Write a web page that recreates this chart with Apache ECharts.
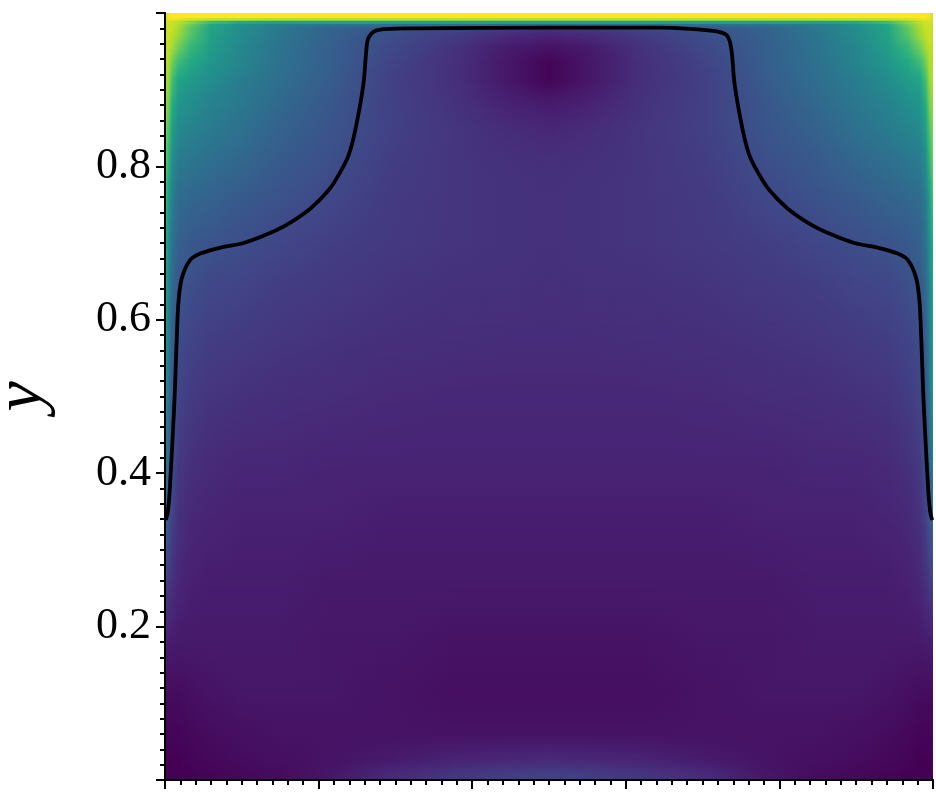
<!DOCTYPE html>
<html>
<head>
<meta charset="utf-8">
<title>Field</title>
<script src="https://cdn.jsdelivr.net/npm/echarts@6/dist/echarts.min.js"></script>
<style>
  html, body { margin: 0; padding: 0; background: #fff; }
  #chart { width: 936px; height: 792px; }
</style>
</head>
<body>
<div id="chart"></div>
<script>
const tickLabelsY = ['0.2', '0.4', '0.6', '0.8']
const viridis = ['#440154', '#482475', '#414487', '#355f8d', '#2a788e', '#21918c', '#22a884', '#44bf70', '#7ad151', '#bddf26', '#fde725']

// x positions of the values in each row
const xNodes = [0, 0.0043, 0.0095, 0.0173, 0.0329, 0.059, 0.098, 0.1501, 0.2151, 0.2932, 0.3843, 0.4497, 0.5,
  0.5503, 0.6157, 0.7068, 0.7849, 0.8499, 0.902, 0.941, 0.9671, 0.9827, 0.9905, 0.9957, 1]

// y limits of the rows, top to bottom
const yEdges = [1, 0.9915, 0.989, 0.9863, 0.9837, 0.9772, 0.9642, 0.9446, 0.9251, 0.8991, 0.8665, 0.8274, 0.7818,
  0.7297, 0.6776, 0.6124, 0.5343, 0.4561, 0.3779, 0.2997, 0.2216, 0.1434, 0.0783, 0.0392, 0.0132, 0]

const fieldRows = [
  [.93, .97, 1, 1, 1, 1, 1, 1, 1, 1, 1, 1, 1, 1, 1, 1, 1, 1, 1, 1, 1, 1, 1, .97, .93],
  [.92, .95, .95, .93, .88, .84, .82, .8, .8, .8, .8, .8, .8, .8, .8, .8, .8, .8, .82, .84, .88, .93, .95, .95, .92],
  [.9, .93, .92, .9, .82, .68, .6, .55, .55, .55, .55, .55, .55, .55, .55, .55, .55, .55, .6, .68, .82, .9, .92, .93, .9],
  [.9, .92, .92, .88, .78, .6, .5, .42, .38, .36, .34, .33, .33, .33, .34, .36, .38, .42, .5, .6, .78, .88, .92, .92, .9],
  [.9, .92, .92, .87, .74, .58, .49, .4, .32, .26, .2, .17, .16, .17, .2, .26, .32, .4, .49, .58, .74, .87, .92, .92, .9],
  [.9, .92, .9, .85, .73, .57, .48, .39, .31, .24, .17, .12, .1, .12, .17, .24, .31, .39, .48, .57, .73, .85, .9, .92, .9],
  [.9, .9, .86, .78, .66, .55, .46, .38, .3, .22, .14, .07, .05, .07, .14, .22, .3, .38, .46, .55, .66, .78, .86, .9, .9],
  [.88, .88, .78, .68, .6, .52, .45, .37, .3, .2, .13, .06, .01, .06, .13, .2, .3, .37, .45, .52, .6, .68, .78, .88, .88],
  [.88, .85, .7, .58, .54, .48, .42, .36, .29, .19, .13, .06, .01, .06, .13, .19, .29, .36, .42, .48, .54, .58, .7, .85, .88],
  [.85, .8, .62, .52, .49, .44, .4, .34, .27, .19, .14, .09, .07, .09, .14, .19, .27, .34, .4, .44, .49, .52, .62, .8, .85],
  [.82, .72, .55, .47, .44, .41, .37, .31, .26, .19, .15, .125, .11, .125, .15, .19, .26, .31, .37, .41, .44, .47, .55, .72, .82],
  [.78, .65, .48, .41, .39, .36, .33, .28, .24, .18, .15, .14, .135, .14, .15, .18, .24, .28, .33, .36, .39, .41, .48, .65, .78],
  [.7, .55, .42, .35, .33, .31, .28, .25, .21, .17, .15, .145, .14, .145, .15, .17, .21, .25, .28, .31, .33, .35, .42, .55, .7],
  [.62, .5, .38, .31, .28, .26, .24, .21, .185, .165, .15, .145, .14, .145, .15, .165, .185, .21, .24, .26, .28, .31, .38, .5, .62],
  [.58, .46, .34, .27, .24, .21, .2, .18, .165, .15, .14, .14, .135, .14, .14, .15, .165, .18, .2, .21, .24, .27, .34, .46, .58],
  [.55, .42, .3, .23, .2, .18, .17, .155, .145, .135, .13, .125, .125, .125, .13, .135, .145, .155, .17, .18, .2, .23, .3, .42, .55],
  [.5, .38, .27, .2, .17, .15, .14, .13, .125, .115, .11, .11, .11, .11, .11, .115, .125, .13, .14, .15, .17, .2, .27, .38, .5],
  [.42, .32, .23, .17, .14, .12, .11, .11, .1, .1, .1, .1, .1, .1, .1, .1, .1, .11, .11, .12, .14, .17, .23, .32, .42],
  [.32, .26, .19, .14, .11, .1, .09, .09, .09, .08, .08, .08, .08, .08, .08, .08, .09, .09, .09, .1, .11, .14, .19, .26, .32],
  [.2, .17, .14, .11, .09, .08, .08, .08, .07, .07, .07, .07, .07, .07, .07, .07, .07, .08, .08, .08, .09, .11, .14, .17, .2],
  [.09, .08, .08, .07, .07, .07, .07, .07, .06, .06, .05, .05, .05, .05, .05, .06, .06, .07, .07, .07, .07, .07, .08, .08, .09],
  [.03, .03, .03, .03, .04, .05, .06, .06, .06, .05, .04, .04, .04, .04, .04, .05, .06, .06, .06, .05, .04, .03, .03, .03, .03],
  [.01, .01, .01, .01, .02, .03, .04, .05, .05, .05, .05, .05, .05, .05, .05, .05, .05, .05, .04, .03, .02, .01, .01, .01, .01],
  [0, 0, 0, 0, .01, .02, .03, .04, .05, .07, .1, .11, .12, .11, .1, .07, .05, .04, .03, .02, .01, 0, 0, 0, 0],
  [0, 0, 0, 0, 0, .01, .02, .03, .06, .12, .16, .18, .19, .18, .16, .12, .06, .03, .02, .01, 0, 0, 0, 0, 0]
]

// contour line
const contourX = [0.001, 0.0034, 0.0056, 0.0069, 0.0082, 0.0104, 0.0125, 0.0141, 0.0157, 0.0177, 0.0221, 0.0329, 0.0459, 0.072,
  0.1023, 0.1328, 0.1588, 0.1891, 0.2129, 0.2282, 0.239, 0.2477, 0.2582, 0.2621, 0.2647, 0.2725, 0.2868, 0.3323, 0.5002,
  0.6447, 0.6877, 0.7185, 0.7315, 0.7371, 0.7418, 0.7523, 0.761, 0.7718, 0.7871, 0.8109, 0.8412, 0.8672, 0.8977, 0.928, 0.9541,
  0.9671, 0.9779, 0.9823, 0.9843, 0.9859, 0.9875, 0.9896, 0.9918, 0.9931, 0.9944, 0.9966, 0.999]
const contourY = [0.339, 0.348, 0.369, 0.391, 0.413, 0.456, 0.499, 0.543, 0.586, 0.625, 0.655, 0.678, 0.6863, 0.6941,
  0.7001, 0.7114, 0.7241, 0.7449, 0.7688, 0.7926, 0.8144, 0.847, 0.906, 0.951, 0.967, 0.976, 0.979, 0.98, 0.981,
  0.981, 0.979, 0.976, 0.971, 0.955, 0.906, 0.847, 0.8144, 0.7926, 0.7688, 0.7449, 0.7241, 0.7114, 0.7001, 0.6941, 0.6863,
  0.678, 0.655, 0.625, 0.586, 0.543, 0.499, 0.456, 0.413, 0.391, 0.369, 0.348, 0.339]

const chart = echarts.init(document.getElementById('chart'), null, { renderer: 'canvas' })

// paints one row band: each row's values sit at the band middle, shade towards the neighbours over thin strips
const renderRow = (params, api) => {
  const i = params.dataIndex
  const row = fieldRows[i]
  const prev = fieldRows[Math.max(i - 1, 0)]
  const next = fieldRows[Math.min(i + 1, fieldRows.length - 1)]
  const left = api.coord([0, 1])[0]
  const width = api.coord([1, 1])[0] - left
  const y0 = Math.round(api.coord([0, api.value(0)])[1])
  const y1 = Math.round(api.coord([0, api.value(1)])[1])
  const h = yEdges[i] - yEdges[i + 1]
  const hPrev = i > 0 ? yEdges[i - 1] - yEdges[i] : h
  const hNext = i < fieldRows.length - 1 ? yEdges[i + 1] - yEdges[i + 2] : h
  const steps = Math.max(1, Math.floor((y1 - y0) / 2))
  const children = []
  for (let s = 0; s < steps; s++) {
    const top = Math.round(y0 + (y1 - y0) * s / steps)
    const bottom = Math.round(y0 + (y1 - y0) * (s + 1) / steps)
    const f = (s + 0.5) / steps
    const other = f < 0.5 ? prev : next
    const w = f < 0.5 ? (0.5 - f) * h / ((h + hPrev) / 2) : (f - 0.5) * h / ((h + hNext) / 2)
    const stops = row.map((t, k) => ({
      offset: xNodes[k],
      color: echarts.color.lerp(t + (other[k] - t) * w, viridis)
    }))
    children.push({
      type: 'rect',
      shape: { x: left, y: top, width, height: bottom - top },
      style: { fill: new echarts.graphic.LinearGradient(0, 0, 1, 0, stops) }
    })
  }
  return { type: 'group', children }
}

const frameAxis = { min: 0, max: 1, z: 5, axisLine: { show: true, lineStyle: { color: '#000', width: 2 } }, axisTick: { show: false }, axisLabel: { show: false }, splitLine: { show: false } }

chart.setOption({
  animation: false,
  backgroundColor: '#fff',
  grid: { left: 165, right: 3, top: 13, bottom: 12, outerBoundsMode: 'none' },
  xAxis: [
    {
      type: 'value',
      position: 'bottom',
      min: 0,
      max: 1,
      interval: 0.2,
      z: 5,
      axisLine: { onZero: false, lineStyle: { color: '#000', width: 2 } },
      axisTick: { show: true, length: 9, lineStyle: { color: '#000', width: 2 } },
      minorTick: { show: true, splitNumber: 10, length: 5, lineStyle: { color: '#000', width: 2 } },
      axisLabel: { show: false },
      splitLine: { show: false }
    },
    { type: 'value', position: 'top', ...frameAxis }
  ],
  yAxis: [
    {
      type: 'value',
      position: 'left',
      min: 0,
      max: 1,
      interval: 0.2,
      z: 5,
      name: 'y',
      nameLocation: 'middle',
      nameRotate: 90,
      nameGap: 108,
      nameTextStyle: { fontFamily: 'Liberation Serif', fontStyle: 'italic', fontSize: 68, color: '#000' },
      axisLine: { onZero: false, lineStyle: { color: '#000', width: 2 } },
      axisTick: { show: true, length: 9, lineStyle: { color: '#000', width: 2 } },
      minorTick: { show: true, splitNumber: 10, length: 5, lineStyle: { color: '#000', width: 2 } },
      axisLabel: {
        margin: 14,
        fontFamily: 'Liberation Serif',
        fontSize: 44,
        color: '#000',
        formatter: (value) => tickLabelsY.find(l => Number(l) === Number(value.toFixed(1))) || ''
      },
      splitLine: { show: false }
    },
    { type: 'value', position: 'right', ...frameAxis }
  ],
  series: [
    {
      type: 'custom',
      renderItem: renderRow,
      silent: true,
      clip: true,
      encode: { y: [0, 1] },
      data: fieldRows.map((row, i) => [yEdges[i], yEdges[i + 1]])
    },
    {
      type: 'line',
      z: 4,
      silent: true,
      smooth: 0.35,
      showSymbol: false,
      lineStyle: { color: '#000', width: 3.8 },
      data: contourX.map((x, i) => [x, contourY[i]])
    }
  ]
})
</script>
</body>
</html>
